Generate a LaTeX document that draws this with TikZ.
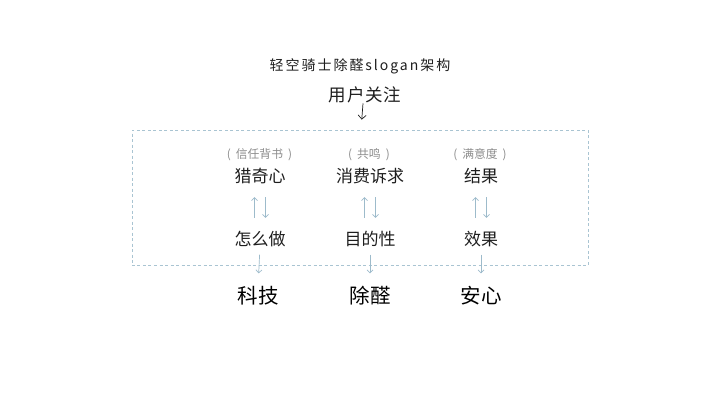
\documentclass[tikz,border=0pt]{standalone}
\usepackage{fontspec}
\setmainfont{Noto Sans CJK SC}
\usetikzlibrary{arrows.meta}
\definecolor{txt}{HTML}{1E1E1E}
\definecolor{note}{HTML}{8C8C8C}
\definecolor{lnk}{HTML}{9DBBCB}
\definecolor{frm}{HTML}{A9C4D2}
\newcommand{\parenthesised}[1]{(\hspace{5bp}#1\hspace{5bp})}
\tikzset{
  titletext/.style={inner sep=0pt, text=txt, font=\fontsize{14bp}{16bp}\selectfont\addfontfeatures{LetterSpace=14}},
  focustext/.style={inner sep=0pt, text=txt, font=\fontsize{17.5bp}{20bp}\selectfont\addfontfeatures{LetterSpace=4}},
  notetext/.style={inner sep=0pt, text=note, font=\fontsize{11.8bp}{14bp}\selectfont},
  celltext/.style={inner sep=0pt, text=txt, font=\fontsize{17bp}{20bp}\selectfont},
  bigtext/.style={inner sep=0pt, text=black, font=\fontsize{20.5bp}{24bp}\selectfont},
  framebox/.style={draw=frm, dashed, dash pattern=on 3bp off 2.5bp, line width=0.8bp, minimum width=456bp, minimum height=135bp, inner sep=0pt},
  uplink/.style={draw=lnk, line width=0.7bp, -{Straight Barb[length=3bp,width=6bp]}},
  downlink/.style={draw=lnk, line width=0.7bp, -{Straight Barb[length=3bp,width=6bp]}},
  blackdown/.style={draw=txt, line width=0.7bp, -{Straight Barb[length=4bp,width=8bp]}}
}
\begin{document}
\begin{tikzpicture}[x=1bp,y=-1bp]
\useasboundingbox (0,0) rectangle (720,405);
\node[framebox] (frame) at (360,197.5) {};
\node[titletext] (title) at (360,66) {轻空骑士除醛slogan架构};
\node[focustext] (focus) at (365,95) {用户关注};

\node[notetext] (p1) at (259.5,155) {\parenthesised{信任背书}};
\node[notetext] (p2) at (369,155) {\parenthesised{共鸣}};
\node[notetext] (p3) at (480,155) {\parenthesised{满意度}};

\node[celltext] (a1) at (260,176) {猎奇心};
\node[celltext] (a2) at (370,176) {消费诉求};
\node[celltext] (a3) at (481,176) {结果};

\node[celltext] (b1) at (260,239) {怎么做};
\node[celltext] (b2) at (370,239) {目的性};
\node[celltext] (b3) at (481,239) {效果};

\node[bigtext] (c1) at (258,296) {科技};
\node[bigtext] (c2) at (370,296) {除醛};
\node[bigtext] (c3) at (481,296) {安心};

\draw[blackdown, shorten <=0bp, shorten >=10bp] ([xshift=-2bp]focus.south) -- ([xshift=1bp]frame.north);

\foreach \i in {1,2,3}{
  \draw[uplink, shorten <=13bp, shorten >=13bp] ([xshift=-5.5bp]b\i.north) -- ([xshift=-5.5bp]a\i.south);
  \draw[downlink, shorten <=13bp, shorten >=13bp] ([xshift=5.5bp]a\i.south) -- ([xshift=5.5bp]b\i.north);
  \draw[downlink, shorten <=7.5bp, shorten >=13bp] (b\i.south) -- (c\i.north);
}
\end{tikzpicture}
\end{document}
